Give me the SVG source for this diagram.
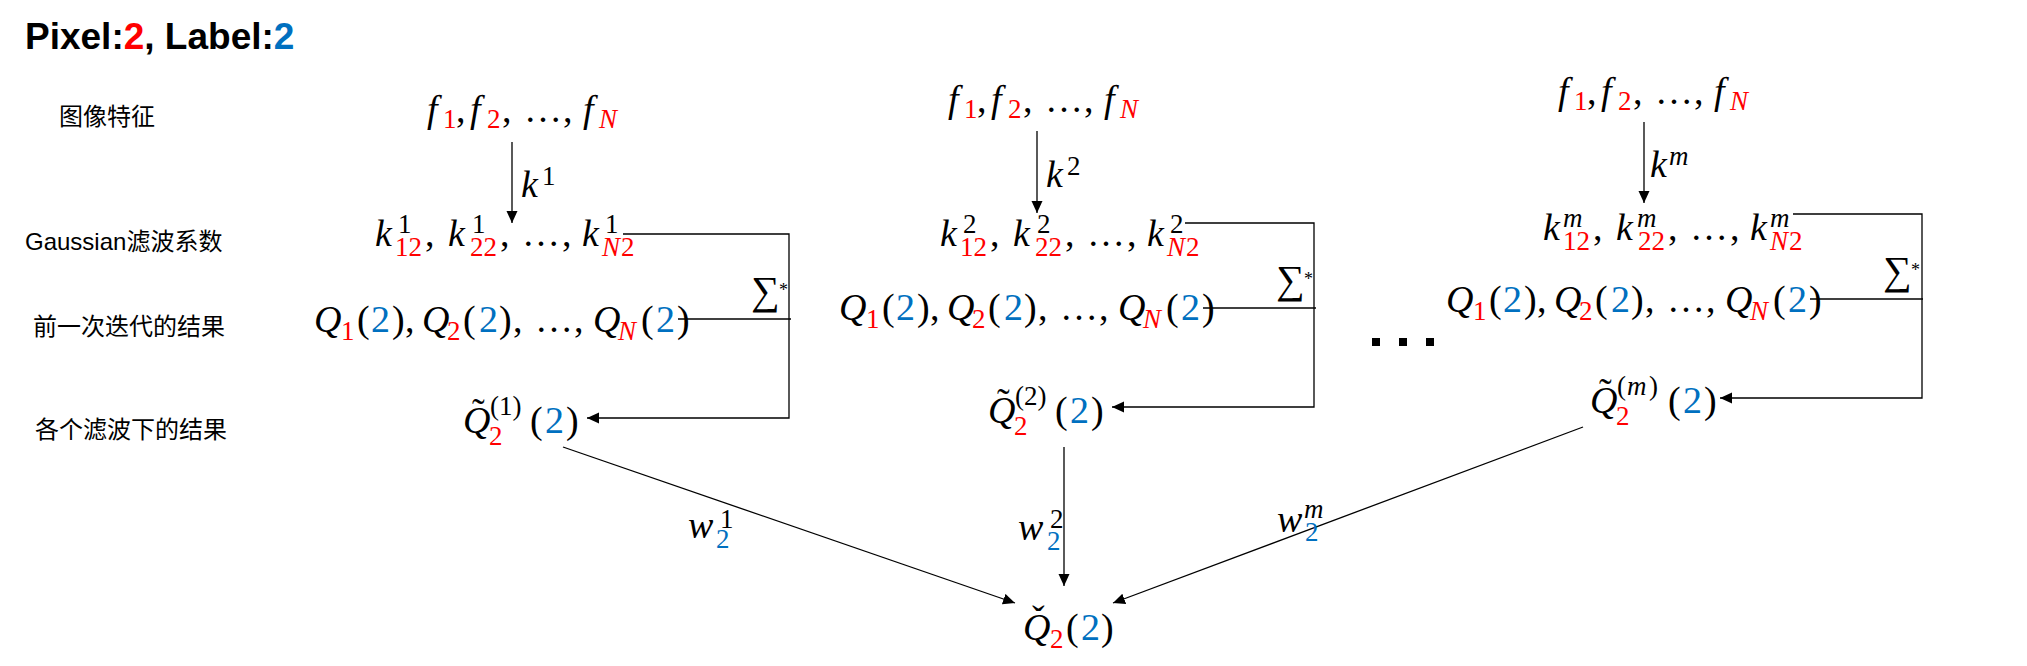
<svg xmlns="http://www.w3.org/2000/svg" width="2027" height="666" viewBox="0 0 2027 666">
<style>
.m{font-family:"Liberation Serif",serif;font-size:38px;fill:#000}
.i{font-style:italic}
.s{font-size:27px}
.r{fill:#FF0000}
.b{fill:#0070C0}
.lbl{font-family:"Liberation Sans","Noto Sans CJK SC",sans-serif;font-size:24px;fill:#000}
.ttl{font-family:"Liberation Sans",Arial,sans-serif;font-size:37px;font-weight:bold;fill:#000}
.sig{font-family:"Liberation Serif","DejaVu Serif",serif;font-size:40px}
.ast{font-family:"Liberation Serif",serif;font-size:18px}
.edge{stroke:#000;stroke-width:1.3;fill:none}
.dot{fill:#000}
</style>
<defs>
<marker id="ah" markerUnits="userSpaceOnUse" markerWidth="13" markerHeight="12" refX="12" refY="5.5" orient="auto">
<path d="M0,0 L12,5.5 L0,11 Z" fill="#000"/>
</marker>
</defs>
<rect width="2027" height="666" fill="#fff"/>

<g id="title">
<text class="ttl" x="25" y="49">Pixel:<tspan class="r">2</tspan>, Label:<tspan class="b">2</tspan></text>
</g>

<g id="row-labels">
<text class="lbl" x="59" y="125">图像特征</text>
<text class="lbl" x="25" y="250">Gaussian滤波系数</text>
<text class="lbl" x="33" y="335">前一次迭代的结果</text>
<text class="lbl" x="35" y="438">各个滤波下的结果</text>
</g>

<g id="connectors">
<path class="edge" d="M512,142 V223" marker-end="url(#ah)"/>
<path class="edge" d="M623,234 H789 V418 H587" marker-end="url(#ah)"/>
<path class="edge" d="M678,319 H791"/>
<path class="edge" d="M1037,131 V213" marker-end="url(#ah)"/>
<path class="edge" d="M1185,223 H1314 V407 H1112" marker-end="url(#ah)"/>
<path class="edge" d="M1203,308 H1316"/>
<path class="edge" d="M1644,122 V203" marker-end="url(#ah)"/>
<path class="edge" d="M1793,214 H1922 V398 H1720" marker-end="url(#ah)"/>
<path class="edge" d="M1810,299 H1923"/>
<path class="edge" d="M563,447 L1015,603" marker-end="url(#ah)"/>
<path class="edge" d="M1064,447 V586" marker-end="url(#ah)"/>
<path class="edge" d="M1583,427 L1113,603" marker-end="url(#ah)"/>
</g>

<!-- Block 1 -->
<g id="f-row-1">
<text class="m"><tspan x="427" y="122" class="i">f</tspan><tspan x="443" y="128" class="s r">1</tspan><tspan x="456" y="122">,</tspan><tspan x="470" y="122" class="i">f</tspan><tspan x="487" y="128" class="s r">2</tspan><tspan x="502" y="122">,</tspan><tspan x="524" y="122">…</tspan><tspan x="563" y="122">,</tspan><tspan x="583" y="122" class="i">f</tspan><tspan x="599" y="128" class="s r i">N</tspan></text>
</g>
<g id="k-label-1">
<text class="m"><tspan x="521" y="197" class="i">k</tspan><tspan x="542" y="185" class="s">1</tspan></text>
</g>
<g id="k-row-1">
<text class="m"><tspan x="375" y="246" class="i">k</tspan><tspan x="398" y="233" class="s">1</tspan><tspan x="395" y="256" class="s r">12</tspan><tspan x="425" y="246">,</tspan><tspan x="448" y="246" class="i">k</tspan><tspan x="472" y="233" class="s">1</tspan><tspan x="470" y="256" class="s r">22</tspan><tspan x="500" y="246">,</tspan><tspan x="522" y="246">…</tspan><tspan x="562" y="246">,</tspan><tspan x="582" y="246" class="i">k</tspan><tspan x="605" y="233" class="s">1</tspan><tspan x="602" y="256" class="s r i">N</tspan><tspan x="621" y="256" class="s r">2</tspan></text>
</g>
<g id="q-row-1">
<text class="m"><tspan x="314" y="332" class="i">Q</tspan><tspan x="341" y="340" class="s r">1</tspan><tspan x="357" y="332">(</tspan><tspan x="371" y="332" class="b">2</tspan><tspan x="392" y="332">)</tspan><tspan x="405" y="332">,</tspan><tspan x="422" y="332" class="i">Q</tspan><tspan x="447" y="340" class="s r">2</tspan><tspan x="463" y="332">(</tspan><tspan x="479" y="332" class="b">2</tspan><tspan x="499" y="332">)</tspan><tspan x="513" y="332">,</tspan><tspan x="535" y="332">…</tspan><tspan x="574" y="332">,</tspan><tspan x="593" y="332" class="i">Q</tspan><tspan x="618" y="340" class="s r i">N</tspan><tspan x="641" y="332">(</tspan><tspan x="656" y="332" class="b">2</tspan><tspan x="677" y="332">)</tspan></text>
</g>
<g id="sum-1">
<text class="sig" x="751" y="304">∑</text><text class="ast" x="779" y="296">*</text>
</g>
<g id="qtilde-1">
<text class="m"><tspan x="463" y="433" class="i">Q</tspan><tspan x="472" y="425">˜</tspan><tspan x="489" y="445" class="s r">2</tspan><tspan x="490" y="415" class="s">(1)</tspan><tspan x="530" y="433">(</tspan><tspan x="545" y="433" class="b">2</tspan><tspan x="566" y="433">)</tspan></text>
</g>

<!-- Block 2 -->
<g id="f-row-2" transform="translate(521,-10)">
<text class="m"><tspan x="427" y="122" class="i">f</tspan><tspan x="443" y="128" class="s r">1</tspan><tspan x="456" y="122">,</tspan><tspan x="470" y="122" class="i">f</tspan><tspan x="487" y="128" class="s r">2</tspan><tspan x="502" y="122">,</tspan><tspan x="524" y="122">…</tspan><tspan x="563" y="122">,</tspan><tspan x="583" y="122" class="i">f</tspan><tspan x="599" y="128" class="s r i">N</tspan></text>
</g>
<g id="k-label-2" transform="translate(525,-10)">
<text class="m"><tspan x="521" y="197" class="i">k</tspan><tspan x="542" y="185" class="s">2</tspan></text>
</g>
<g id="k-row-2" transform="translate(565,0)">
<text class="m"><tspan x="375" y="246" class="i">k</tspan><tspan x="398" y="233" class="s">2</tspan><tspan x="395" y="256" class="s r">12</tspan><tspan x="425" y="246">,</tspan><tspan x="448" y="246" class="i">k</tspan><tspan x="472" y="233" class="s">2</tspan><tspan x="470" y="256" class="s r">22</tspan><tspan x="500" y="246">,</tspan><tspan x="522" y="246">…</tspan><tspan x="562" y="246">,</tspan><tspan x="582" y="246" class="i">k</tspan><tspan x="605" y="233" class="s">2</tspan><tspan x="602" y="256" class="s r i">N</tspan><tspan x="621" y="256" class="s r">2</tspan></text>
</g>
<g id="q-row-2" transform="translate(525,-12)">
<text class="m"><tspan x="314" y="332" class="i">Q</tspan><tspan x="341" y="340" class="s r">1</tspan><tspan x="357" y="332">(</tspan><tspan x="371" y="332" class="b">2</tspan><tspan x="392" y="332">)</tspan><tspan x="405" y="332">,</tspan><tspan x="422" y="332" class="i">Q</tspan><tspan x="447" y="340" class="s r">2</tspan><tspan x="463" y="332">(</tspan><tspan x="479" y="332" class="b">2</tspan><tspan x="499" y="332">)</tspan><tspan x="513" y="332">,</tspan><tspan x="535" y="332">…</tspan><tspan x="574" y="332">,</tspan><tspan x="593" y="332" class="i">Q</tspan><tspan x="618" y="340" class="s r i">N</tspan><tspan x="641" y="332">(</tspan><tspan x="656" y="332" class="b">2</tspan><tspan x="677" y="332">)</tspan></text>
</g>
<g id="sum-2" transform="translate(525,-11)">
<text class="sig" x="751" y="304">∑</text><text class="ast" x="779" y="296">*</text>
</g>
<g id="qtilde-2" transform="translate(525,-10)">
<text class="m"><tspan x="463" y="433" class="i">Q</tspan><tspan x="472" y="425">˜</tspan><tspan x="489" y="445" class="s r">2</tspan><tspan x="490" y="415" class="s">(2)</tspan><tspan x="530" y="433">(</tspan><tspan x="545" y="433" class="b">2</tspan><tspan x="566" y="433">)</tspan></text>
</g>

<g id="ellipsis">
<rect class="dot" x="1372" y="338" width="8" height="8"/>
<rect class="dot" x="1399" y="338" width="8" height="8"/>
<rect class="dot" x="1426" y="338" width="8" height="8"/>
</g>

<!-- Block 3 -->
<g id="f-row-m" transform="translate(1131,-18)">
<text class="m"><tspan x="427" y="122" class="i">f</tspan><tspan x="443" y="128" class="s r">1</tspan><tspan x="456" y="122">,</tspan><tspan x="470" y="122" class="i">f</tspan><tspan x="487" y="128" class="s r">2</tspan><tspan x="502" y="122">,</tspan><tspan x="524" y="122">…</tspan><tspan x="563" y="122">,</tspan><tspan x="583" y="122" class="i">f</tspan><tspan x="599" y="128" class="s r i">N</tspan></text>
</g>
<g id="k-label-m" transform="translate(1129,-20)">
<text class="m"><tspan x="521" y="197" class="i">k</tspan><tspan x="540" y="185" class="s i">m</tspan></text>
</g>
<g id="k-row-m" transform="translate(1168,-6)">
<text class="m"><tspan x="375" y="246" class="i">k</tspan><tspan x="395" y="233" class="s i">m</tspan><tspan x="395" y="256" class="s r">12</tspan><tspan x="425" y="246">,</tspan><tspan x="448" y="246" class="i">k</tspan><tspan x="469" y="233" class="s i">m</tspan><tspan x="470" y="256" class="s r">22</tspan><tspan x="500" y="246">,</tspan><tspan x="522" y="246">…</tspan><tspan x="562" y="246">,</tspan><tspan x="582" y="246" class="i">k</tspan><tspan x="602" y="233" class="s i">m</tspan><tspan x="602" y="256" class="s r i">N</tspan><tspan x="621" y="256" class="s r">2</tspan></text>
</g>
<g id="q-row-m" transform="translate(1132,-20)">
<text class="m"><tspan x="314" y="332" class="i">Q</tspan><tspan x="341" y="340" class="s r">1</tspan><tspan x="357" y="332">(</tspan><tspan x="371" y="332" class="b">2</tspan><tspan x="392" y="332">)</tspan><tspan x="405" y="332">,</tspan><tspan x="422" y="332" class="i">Q</tspan><tspan x="447" y="340" class="s r">2</tspan><tspan x="463" y="332">(</tspan><tspan x="479" y="332" class="b">2</tspan><tspan x="499" y="332">)</tspan><tspan x="513" y="332">,</tspan><tspan x="535" y="332">…</tspan><tspan x="574" y="332">,</tspan><tspan x="593" y="332" class="i">Q</tspan><tspan x="618" y="340" class="s r i">N</tspan><tspan x="641" y="332">(</tspan><tspan x="656" y="332" class="b">2</tspan><tspan x="677" y="332">)</tspan></text>
</g>
<g id="sum-m" transform="translate(1132,-20)">
<text class="sig" x="751" y="304">∑</text><text class="ast" x="779" y="296">*</text>
</g>
<g id="qtilde-m" transform="translate(1127,-20)">
<text class="m"><tspan x="463" y="433" class="i">Q</tspan><tspan x="472" y="425">˜</tspan><tspan x="489" y="445" class="s r">2</tspan><tspan x="490" y="415" class="s">(</tspan><tspan x="500" y="415" class="s i">m</tspan><tspan x="522" y="415" class="s">)</tspan><tspan x="541" y="433">(</tspan><tspan x="556" y="433" class="b">2</tspan><tspan x="577" y="433">)</tspan></text>
</g>

<!-- Bottom -->
<g id="w-label-1">
<text class="m"><tspan x="688" y="538" class="i">w</tspan><tspan x="720" y="528" class="s">1</tspan><tspan x="716" y="548" class="s b">2</tspan></text>
</g>
<g id="w-label-2">
<text class="m"><tspan x="1018" y="540" class="i">w</tspan><tspan x="1050" y="528" class="s">2</tspan><tspan x="1047" y="550" class="s b">2</tspan></text>
</g>
<g id="w-label-m">
<text class="m"><tspan x="1277" y="532" class="i">w</tspan><tspan x="1304" y="518" class="s i">m</tspan><tspan x="1305" y="541" class="s b">2</tspan></text>
</g>
<g id="qcheck">
<text class="m"><tspan x="1023" y="640" class="i">Q</tspan><tspan x="1032" y="632">ˇ</tspan><tspan x="1050" y="648" class="s r">2</tspan><tspan x="1066" y="640">(</tspan><tspan x="1081" y="640" class="b">2</tspan><tspan x="1101" y="640">)</tspan></text>
</g>
</svg>
